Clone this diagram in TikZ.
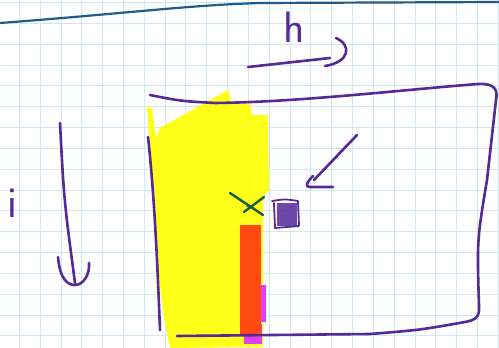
\documentclass[tikz,border=0pt]{standalone}
\definecolor{gridblue}{HTML}{D0E9F1}
\definecolor{penpurple}{HTML}{55299A}
\definecolor{penblue}{HTML}{1F5C8C}
\definecolor{hiyellow}{HTML}{FFFF00}
\definecolor{penred}{HTML}{FF4A10}
\definecolor{penmag}{HTML}{E040F0}
\definecolor{pengreen}{HTML}{1B5E3B}
\begin{document}
\begin{tikzpicture}[x=1pt,y=-1pt,
  pen/.style={draw=penpurple,line width=2.6pt,line cap=round,line join=round},
  gridline/.style={draw=gridblue,line width=0.9pt},
  handtext/.style={text=penpurple,font=\fontsize{44}{44}\selectfont\sffamily,inner sep=0pt,anchor=base}]
\useasboundingbox (0,0) rectangle (499,348);
\fill[white] (0,0) rectangle (499,348);
% grid paper
\foreach \i in {0,...,23} \draw[gridline] ({19.3+20.83*\i},0) -- ++(0,348);
\foreach \j in {0,...,16} \draw[gridline] (0,{2.5+20.83*\j}) -- ++(499,0);
% top blue line
\draw[penblue,line width=2.2pt,line cap=round] (0,23) .. controls (120,14) and (190,5) .. (260,3) -- (499,2);
% yellow highlight
\fill[hiyellow,fill opacity=0.9] (147,106) -- (152,108) -- (156,138) -- (160,128) -- (228,90) -- (232,103) -- (250,104) -- (252,115) -- (268,115) -- (269,190) -- (263,196) -- (263,347) -- (170,348) -- (163,312) -- (156,250) -- (152,180) -- (149,140) -- cycle;
% magenta and red strip
\fill[penmag] (244,324) rectangle (262,344);
\fill[penmag] (257,285) rectangle (266,322);
\fill[penred] (240,225) rectangle (261,334);
% box
\draw[pen] (150,95) .. controls (180,101) .. (215,103) .. controls (300,102) and (400,90) .. (478,84) .. controls (495,83) and (498,90) .. (496,100) -- (487,180) .. controls (477,240) .. (479,305) .. controls (480,318) and (475,320) .. (465,322) .. controls (420,330) .. (370,334) -- (177,336);
\draw[pen] (148,137) .. controls (155,200) and (158,280) .. (160,330);
% h label with arrow
\node[handtext] (hlabel) at (294,42) {h};
\coordinate (hs) at (248,67);
\coordinate (he) at (330,58);
\draw[pen] (hs) -- (he);
\draw[pen] (336,38) .. controls (352,45) and (350,62) .. (325,66);
% i label with arrow
\node[handtext] (ilabel) at (12,217) {i};
\coordinate (is) at (60,123);
\coordinate (ie) at (75,283);
\draw[pen] (is) .. controls (64,200) .. (ie);
\draw[pen] (58,257) .. controls (60,280) and (68,285) .. (75,285) .. controls (83,285) and (90,275) .. (89,263);
% pointer arrow
\coordinate (ps) at (357,135);
\coordinate (pe) at (314,180);
\draw[pen] (ps) -- (pe);
\draw[pen] (313,176) .. controls (306,183) and (305,187) .. (310,187) -- (333,187);
% green cross
\coordinate (xc) at (248,206);
\draw[pengreen,line width=2.4pt,line cap=round] (230,193) -- (263,215);
\draw[pengreen,line width=2.4pt,line cap=round] (264,197) -- (244,212);
\fill[penblue] (xc) circle (1.6);
% small scribbled box
\fill[penpurple,fill opacity=0.85] (277,203) rectangle (297,226);
\draw[pen,line width=1.8pt] (272,201) .. controls (285,199) .. (298,201) -- (299,226) -- (275,228) -- (274,203);
\end{tikzpicture}
\end{document}
